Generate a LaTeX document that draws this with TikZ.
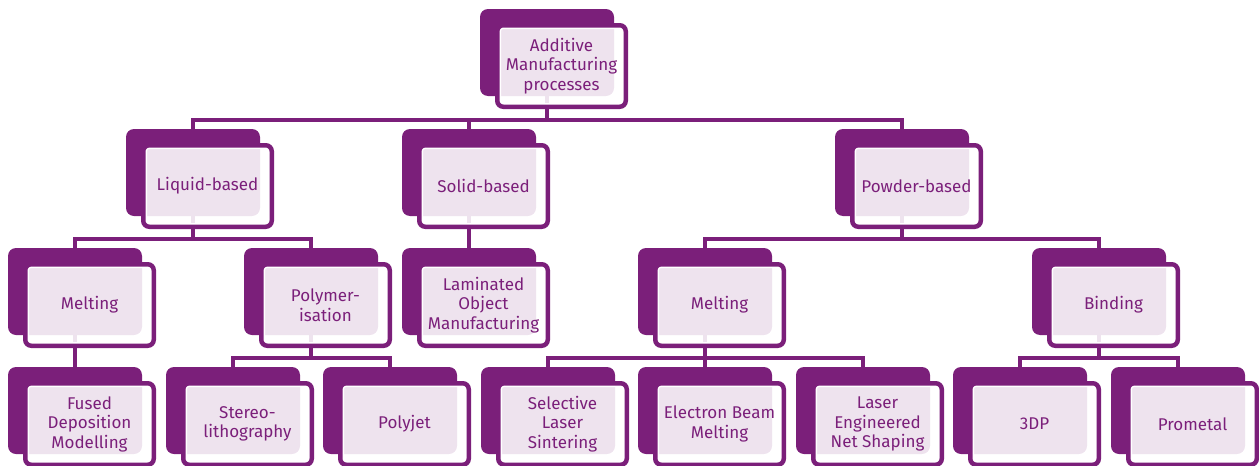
\documentclass[tikz,border=0pt]{standalone}
\usepackage{fontspec}
\setmainfont{Fira Sans}
\usepackage{tikz}
\usetikzlibrary{backgrounds}
\definecolor{ecpurple}{RGB}{123,31,122}

\tikzset{
  backbox/.style = {fill = ecpurple, rounded corners = 8pt, inner sep = 0pt,
    minimum width = 134pt, minimum height = 87pt},
  frontbox/.style = {draw = ecpurple, line width = 4.5pt, rounded corners = 6pt,
    fill = white, fill opacity = 0.88, text opacity = 1, text = ecpurple,
    minimum width = 128.5pt, minimum height = 81.5pt, inner sep = 0pt, align = center,
    font = \fontsize{17}{19.5}\selectfont,
    path picture = {\draw[white, line width = 7.5pt, rounded corners = 6pt]
      (path picture bounding box.south west) rectangle (path picture bounding box.north east);}},
  link/.style = {draw = ecpurple, line width = 4.5pt}
}

\begin{document}
\begin{tikzpicture}[x = 1pt, y = -1pt]
    \useasboundingbox (0,0) rectangle (1259,466);
    % top
    \node (additive)[backbox] at (547,52.5) {};
    \node (additive_lbl)[frontbox] at ([shift={(14.5,13.5)}]additive) {Additive\\Manufacturing\\processes};
    % second row
    \node (liquid)[backbox] at (193,172.5) {};
    \node (liquid_lbl)[frontbox] at ([shift={(14.5,13.5)}]liquid) {Liquid-based};
    \node (solid)[backbox] at (469,172.5) {};
    \node (solid_lbl)[frontbox] at ([shift={(14.5,13.5)}]solid) {Solid-based};
    \node (powder)[backbox] at (902,172.5) {};
    \node (powder_lbl)[frontbox] at ([shift={(14.5,13.5)}]powder) {Powder-based};
    % third row
    \node (melt_l)[backbox] at (75,291.5) {};
    \node (melt_l_lbl)[frontbox] at ([shift={(14.5,13.5)}]melt_l) {Melting};
    \node (polymer)[backbox] at (311,291.5) {};
    \node (polymer_lbl)[frontbox] at ([shift={(14.5,13.5)}]polymer) {Polymer-\\isation};
    \node (laminated)[backbox] at (469,291.5) {};
    \node (laminated_lbl)[frontbox] at ([shift={(14.5,13.5)}]laminated) {Laminated\\Object\\Manufacturing};
    \node (melt_r)[backbox] at (705,291.5) {};
    \node (melt_r_lbl)[frontbox] at ([shift={(14.5,13.5)}]melt_r) {Melting};
    \node (binding)[backbox] at (1099,291.5) {};
    \node (binding_lbl)[frontbox] at ([shift={(14.5,13.5)}]binding) {Binding};
    % bottom row
    \node (fused)[backbox] at (75,410.5) {};
    \node (fused_lbl)[frontbox] at ([shift={(14.5,13.5)}]fused) {Fused\\Deposition\\Modelling};
    \node (stereo)[backbox] at (233,410.5) {};
    \node (stereo_lbl)[frontbox] at ([shift={(14.5,13.5)}]stereo) {Stereo-\\lithography};
    \node (polyjet)[backbox] at (390,410.5) {};
    \node (polyjet_lbl)[frontbox] at ([shift={(14.5,13.5)}]polyjet) {Polyjet};
    \node (selective)[backbox] at (548,410.5) {};
    \node (selective_lbl)[frontbox] at ([shift={(14.5,13.5)}]selective) {Selective\\Laser\\Sintering};
    \node (electron)[backbox] at (705,410.5) {};
    \node (electron_lbl)[frontbox] at ([shift={(14.5,13.5)}]electron) {Electron Beam\\Melting};
    \node (lens)[backbox] at (863,410.5) {};
    \node (lens_lbl)[frontbox] at ([shift={(14.5,13.5)}]lens) {Laser\\Engineered\\Net Shaping};
    \node (threedp)[backbox] at (1020,410.5) {};
    \node (threedp_lbl)[frontbox] at ([shift={(14.5,13.5)}]threedp) {3DP};
    \node (prometal)[backbox] at (1178,410.5) {};
    \node (prometal_lbl)[frontbox] at ([shift={(14.5,13.5)}]prometal) {Prometal};
    % rails between rows
    \coordinate (bus_a) at (0,120);
    \coordinate (bus_b) at (0,239);
    \coordinate (bus_c) at (0,358);
    \begin{pgfonlayer}{background}
        \path(additive.center) edge[link] (additive |- bus_a);
        \draw[link] (additive |- bus_a) -| (liquid.center);
        \draw[link] (additive |- bus_a) -| (solid.center);
        \draw[link] (additive |- bus_a) -| (powder.center);
        \path(liquid.center) edge[link] (liquid |- bus_b);
        \draw[link] (liquid |- bus_b) -| (melt_l.center);
        \draw[link] (liquid |- bus_b) -| (polymer.center);
        \path(solid.center) edge[link] (laminated.center);
        \path(powder.center) edge[link] (powder |- bus_b);
        \draw[link] (powder |- bus_b) -| (melt_r.center);
        \draw[link] (powder |- bus_b) -| (binding.center);
        \path(melt_l.center) edge[link] (fused.center);
        \path(polymer.center) edge[link] (polymer |- bus_c);
        \draw[link] (polymer |- bus_c) -| (stereo.center);
        \draw[link] (polymer |- bus_c) -| (polyjet.center);
        \path(melt_r.center) edge[link] (electron.center);
        \draw[link] (melt_r |- bus_c) -| (selective.center);
        \draw[link] (melt_r |- bus_c) -| (lens.center);
        \path(binding.center) edge[link] (binding |- bus_c);
        \draw[link] (binding |- bus_c) -| (threedp.center);
        \draw[link] (binding |- bus_c) -| (prometal.center);
    \end{pgfonlayer}
\end{tikzpicture}
\end{document}
